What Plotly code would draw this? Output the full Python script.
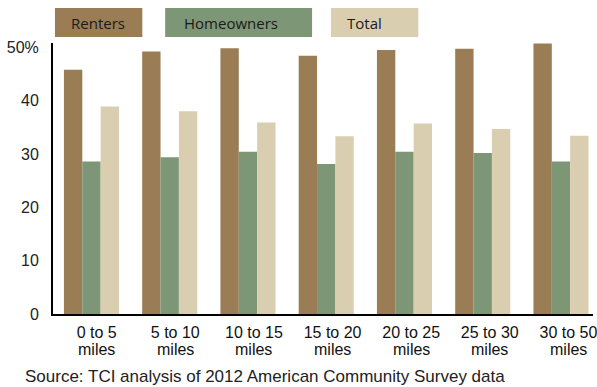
import plotly.graph_objects as go

# ---- data ----
categories = ["0 to 5", "5 to 10", "10 to 15", "15 to 20", "20 to 25", "25 to 30", "30 to 50"]
unit_label = "miles"
renters = [45.8, 49.2, 49.8, 48.4, 49.5, 49.7, 50.7]
homeowners = [28.6, 29.4, 30.4, 28.1, 30.4, 30.2, 28.6]
total = [38.9, 38.0, 35.9, 33.3, 35.7, 34.7, 33.4]
series_names = ["Renters", "Homeowners", "Total"]
y_tickvals = [0, 10, 20, 30, 40, 50]
y_ticktext = ["0", "10", "20", "30", "40", "50%"]
source_text = "Source: TCI analysis of 2012 American Community Survey data"

# ---- style ----
W, H = 597, 387
ML, MR, MT, MB = 53, 0, 43, 73
colors = ["#9B7D55", "#7D9676", "#DACEB0"]
SANS = "Liberation Sans, Arial, sans-serif"
LEGFONT = "Open Sans, Noto Sans, sans-serif"

pw = W - ML - MR
ph = H - MT - MB

def px_x(p):
    return (p - ML) / pw

def px_y(p):
    return (H - MB - p) / ph

xpos = list(range(len(categories)))

fig = go.Figure()
for name, vals, col in zip(series_names, [renters, homeowners, total], colors):
    fig.add_trace(go.Bar(x=xpos, y=vals, name=name, marker=dict(color=col, line=dict(width=0)),
                         showlegend=False))

# invisible trace carrying the category labels on the label axis
fig.add_trace(go.Scatter(x=categories, y=renters, xaxis="x2", mode="markers",
                         marker=dict(opacity=0), showlegend=False, hoverinfo="skip"))

# second line of each category label
for c in categories:
    fig.add_annotation(text=unit_label, xref="x2", yref="paper", x=c, y=px_y(349),
                       xanchor="center", yanchor="middle", showarrow=False,
                       font=dict(family=SANS, size=16, color="#111111"))

# legend boxes
leg_boxes = [(55, 143, 69), (166, 314, 183), (333, 421, 347)]
for (x0, x1, tx), name, col in zip(leg_boxes, series_names, colors):
    fig.add_shape(type="rect", xref="paper", yref="paper",
                  x0=px_x(x0), x1=px_x(x1), y0=px_y(37), y1=px_y(8),
                  fillcolor=col, line=dict(width=0), layer="above")
    fig.add_annotation(text=name, xref="paper", yref="paper", x=px_x(tx), y=px_y(22.5),
                       xanchor="left", yanchor="middle", showarrow=False,
                       font=dict(family=LEGFONT, size=15, color="#1a1a1a"))

fig.add_annotation(text=source_text, xref="paper", yref="paper", x=px_x(23), y=px_y(376),
                   xanchor="left", yanchor="middle", showarrow=False,
                   font=dict(family=SANS, size=17, color="#222222"))

fig.update_layout(
    width=W, height=H,
    margin=dict(l=ML, r=MR, t=MT, b=MB, pad=0),
    paper_bgcolor="white", plot_bgcolor="white",
    barmode="group", bargap=0.296, bargroupgap=0,
    xaxis=dict(range=[-0.4916, 6.409], showticklabels=False, showgrid=False, zeroline=False,
               showline=True, linecolor="black", linewidth=2, ticks=""),
    xaxis2=dict(overlaying="x", anchor="y", side="bottom", type="category",
                range=[-0.5556, 6.313], showgrid=False, zeroline=False, showline=False,
                ticks="", ticklabelstandoff=7,
                tickfont=dict(family=SANS, size=16, color="#111111")),
    yaxis=dict(range=[0, 50.8], tickvals=y_tickvals, ticktext=y_ticktext, showgrid=False,
               zeroline=False, showline=True, linecolor="black", linewidth=2, ticks="",
               ticklabelstandoff=9,
               tickfont=dict(family=SANS, size=16, color="#222222")),
)

fig.write_html("out.html")
